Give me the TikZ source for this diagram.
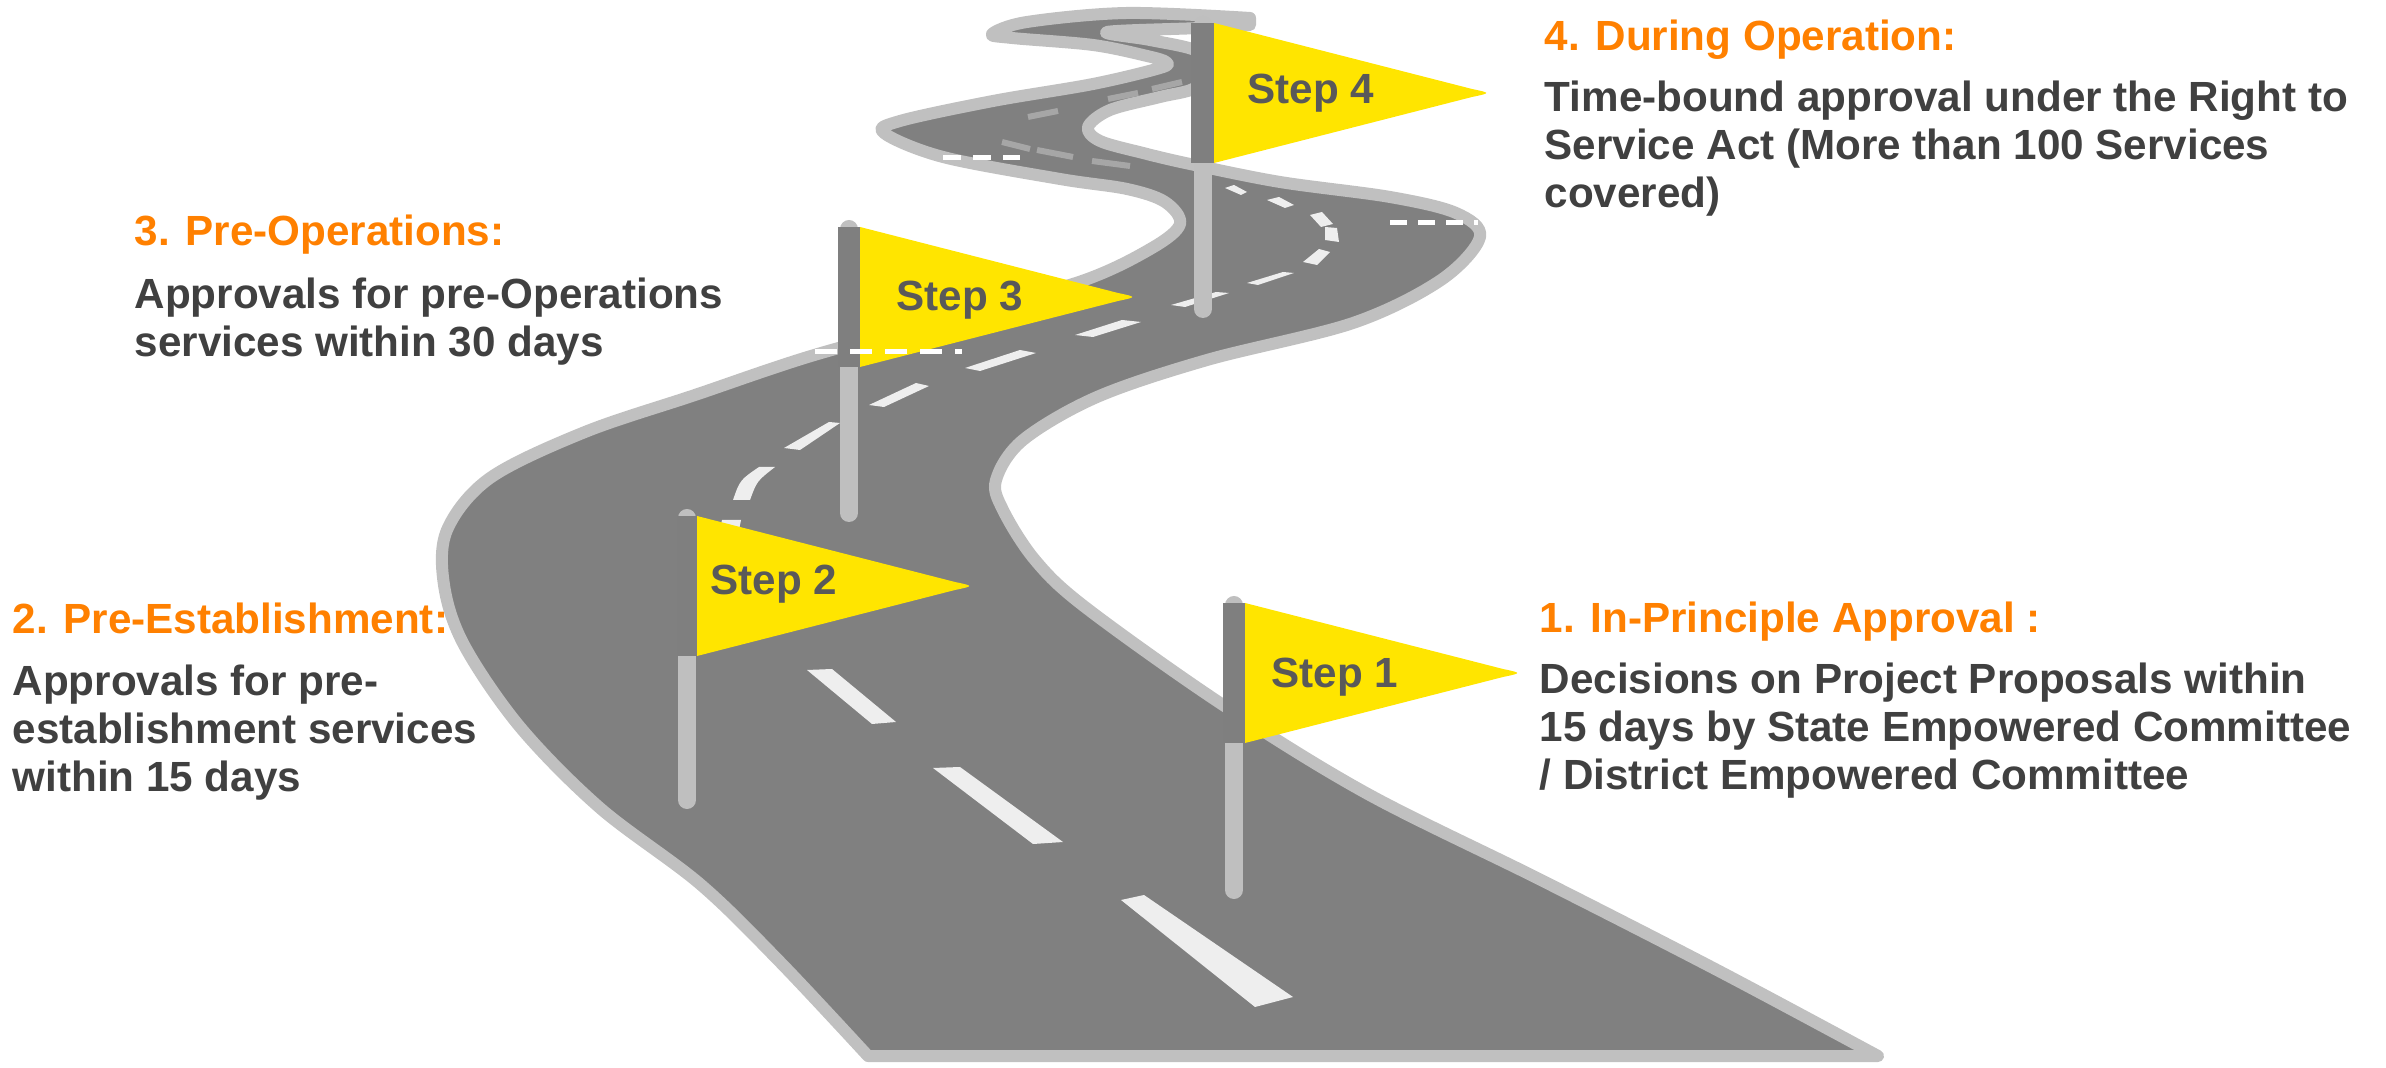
\documentclass[tikz,border=0pt]{standalone}
\usepackage{fontspec}
\setmainfont{Liberation Sans}
\definecolor{roadgrey}{HTML}{808080}
\definecolor{roadedge}{HTML}{C0C0C0}
\definecolor{lanewhite}{HTML}{EEEEEE}
\definecolor{lanefar}{HTML}{A6A6A6}
\definecolor{flagyellow}{HTML}{FFE500}
\definecolor{poledark}{HTML}{7F7F7F}
\definecolor{polelight}{HTML}{BFBFBF}
\definecolor{steptext}{HTML}{595959}
\definecolor{headorange}{HTML}{FF8000}
\definecolor{bodygrey}{HTML}{404040}
\begin{document}
\begin{tikzpicture}[x=0.01cm, y=-0.01cm,
    roadshape/.style={fill=roadgrey, draw=roadedge, line width=0.12cm, line join=round},
    lanemark/.style={fill=lanewhite},
    farmark/.style={draw=lanefar, line width=0.06cm},
    polestick/.style={draw=polelight, line width=0.18cm, line cap=round},
    poleflag/.style={fill=poledark},
    flagcloth/.style={fill=flagyellow},
    steplabel/.style={text=steptext, font=\bfseries\fontsize{12pt}{13.66pt}\selectfont, inner sep=0pt, anchor=base},
    headline/.style={text=headorange, font=\bfseries\fontsize{12pt}{13.66pt}\selectfont, inner sep=0pt, anchor=base west},
    bodyline/.style={text=bodygrey, font=\bfseries\fontsize{12pt}{13.66pt}\selectfont, align=left, inner sep=0pt, anchor=base west},
    leaderline/.style={draw=white, line width=0.05cm, dash pattern=on 0.22cm off 0.13cm}]
    \useasboundingbox (0,0) rectangle (2386,1068);

    \draw[roadshape] plot[smooth, tension=0.55] coordinates {(868,1056) (780,962) (700,884) (600,808) (520,727) (464,645) (444,585) (447,530) (490,478) (585,432) (695,395) (811,356) (950,318) (1082,281) (1152,248) (1180,224) (1165,202) (1127,189) (1060,179) (943,157) (884,133) (900,121) (993,101) (1093,84) (1160,68) (1166,62) (1147,56) (1093,45) (1012,38) (992,34) (1027,22) (1127,13) (1250,18)}
        -- plot[smooth, tension=0.55] coordinates {(1250,25) (1200,28) (1107,32) (1150,40) (1195,50) (1215,66) (1195,88) (1160,97) (1110,110) (1088,127) (1100,141) (1143,153) (1190,164) (1280,182) (1390,197) (1456,213) (1480,237) (1441,280) (1353,323) (1207,360) (1097,397) (1023,440) (996,480) (1003,510) (1035,560) (1085,607) (1220,703) (1366,793) (1541,880) (1717,970) (1878,1056)} -- cycle;

    \draw[farmark] (1002,142) -- (1030,149);
    \draw[farmark] (1037,150) -- (1073,157);
    \draw[farmark] (1092,161) -- (1130,166);
    \draw[farmark] (1028,117) -- (1058,111);
    \draw[farmark] (1108,99) -- (1138,93);
    \draw[farmark] (1152,89) -- (1182,82);

    \fill[lanemark] (722,520) -- (741,520) -- (737,540) -- (717,540) -- cycle;
    \fill[lanemark] (733,500) .. controls (740,480) .. (759,467) -- (775,467) .. controls (757,481) .. (750,500) -- cycle;
    \fill[lanemark] (784,448) -- (800,450) -- (840,423) -- (829,422) -- cycle;
    \fill[lanemark] (869,405) -- (884,407) -- (929,386) -- (916,383) -- cycle;
    \fill[lanemark] (965,368) -- (980,371) -- (1036,353) -- (1020,350) -- cycle;
    \fill[lanemark] (1075,335) -- (1093,337) -- (1141,322) -- (1122,320) -- cycle;
    \fill[lanemark] (1171,305) -- (1185,307) -- (1229,293) -- (1216,292) -- cycle;
    \fill[lanemark] (1247,283) -- (1258,285) -- (1294,273) -- (1283,272) -- cycle;
    \fill[lanemark] (1303,262) -- (1317,265) -- (1330,252) -- (1319,249) -- cycle;
    \fill[lanemark] (1325,240) -- (1339,242) -- (1337,228) -- (1325,227) -- cycle;
    \fill[lanemark] (1310,215) -- (1322,212) -- (1333,224) -- (1321,227) -- cycle;
    \fill[lanemark] (1267,200) -- (1279,197) -- (1294,205) -- (1285,208) -- cycle;
    \fill[lanemark] (1225,188) -- (1234,185) -- (1247,192) -- (1241,195) -- cycle;
    \fill[lanemark] (807,670) -- (832,669) -- (896,722) -- (872,724) -- cycle;
    \fill[lanemark] (933,768) -- (960,767) -- (1063,842) -- (1033,844) -- cycle;
    \fill[lanemark] (1121,900) -- (1144,895) -- (1293,997) -- (1255,1007) -- cycle;

    \draw[polestick] (1234,605) -- (1234,890);
    \fill[flagcloth] (1245,603) -- (1503,669) .. controls (1522,673) .. (1503,677) -- (1245,743) -- cycle;
    \fill[poleflag] (1223,603) rectangle (1245,743);
    \node[steplabel] (step1) at (1335,688) {Step 1};

    \draw[polestick] (687,518) -- (687,800);
    \fill[flagcloth] (697,516) -- (955,582) .. controls (974,586) .. (955,590) -- (697,656) -- cycle;
    \fill[poleflag] (677,516) rectangle (697,656);
    \node[steplabel] (step2) at (774,595) {Step 2};

    \draw[polestick] (849,229) -- (849,513);
    \fill[flagcloth] (860,227) -- (1118,293) .. controls (1137,297) .. (1118,301) -- (860,367) -- cycle;
    \fill[poleflag] (838,227) rectangle (860,367);
    \node[steplabel] (step3) at (960,311) {Step 3};

    \draw[polestick] (1203,25) -- (1203,309);
    \fill[flagcloth] (1214,23) -- (1472,89) .. controls (1491,93) .. (1472,97) -- (1214,163) -- cycle;
    \fill[poleflag] (1191,23) rectangle (1214,163);
    \node[steplabel] (step4) at (1311,104) {Step 4};

    \draw[leaderline] (815,352) -- (962,352);
    \draw[leaderline, dash pattern=on 0.18cm off 0.12cm] (943,158) -- (1020,158);
    \draw[leaderline, dash pattern=on 0.17cm off 0.11cm] (1390,223) -- (1478,223);

    \node[headline] (head4) at (1544,51) {4. During Operation:};
    \node[bodyline] (body4) at (1544,208) {Time-bound approval under the Right to\\Service Act (More than 100 Services\\covered)};
    \node[headline] (head3) at (134,246) {3. Pre-Operations:};
    \node[bodyline] (body3) at (134,357) {Approvals for pre-Operations\\services within 30 days};
    \node[headline] (head2) at (12,634) {2. Pre-Establishment:};
    \node[bodyline] (body2) at (12,792) {Approvals for pre-\\establishment services\\within 15 days};
    \node[headline] (head1) at (1539,633) {1. In-Principle Approval :};
    \node[bodyline] (body1) at (1539,790) {Decisions on Project Proposals within\\15 days by State Empowered Committee\\/ District Empowered Committee};
\end{tikzpicture}
\end{document}
